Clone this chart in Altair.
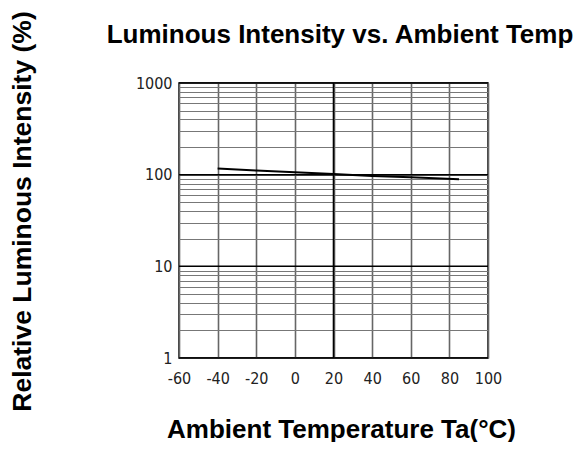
import altair as alt
import pandas as pd

# Data
temps = [-40, -20, 0, 20, 40, 60, 85]
intensity = [117, 111, 106, 102, 97, 94, 89]

x_ticks = [-60, -40, -20, 0, 20, 40, 60, 80, 100]
y_grid = [1, 2, 3, 4, 5, 6, 7, 8, 9,
          10, 20, 30, 40, 50, 60, 70, 80, 90,
          100, 200, 300, 400, 500, 600, 700, 800, 900, 1000]
decades = [1, 10, 100, 1000]
center_temp = [20]
chart_title = ["Luminous Intensity vs. Ambient Temp"]

df = pd.DataFrame({"t": temps, "v": intensity})
dec_df = pd.DataFrame({"v": decades})
ct_df = pd.DataFrame({"t": center_temp})
title_df = pd.DataFrame({"label": chart_title})

xscale = alt.Scale(domain=[-60, 100], nice=False, zero=False)
yscale = alt.Scale(type="log", domain=[1, 1000], nice=False)

label_font = "DejaVu Sans Condensed"
title_font = "Liberation Sans"

x_axis = alt.Axis(values=x_ticks, title="Ambient Temperature Ta(°C)",
                  labelExpr="toString(datum.value)",
                  grid=True, gridColor="#666666", gridWidth=1.6,
                  domain=False, ticks=False, labelPadding=12,
                  labelOverlap=False, labelSeparation=0, labelFlush=False,
                  labelFont=label_font, labelFontSize=16, labelColor="#222222",
                  titleFont=title_font, titleFontSize=26, titleFontWeight="bold",
                  titleColor="black", titleX=162, titleY=79,
                  titleBaseline="alphabetic", titleAnchor="middle")
y_axis = alt.Axis(values=y_grid, title="Relative Luminous Intensity (%)",
                  labelExpr="(datum.value==1||datum.value==10||datum.value==100||datum.value==1000) ? toString(datum.value) : ''",
                  grid=True, gridColor="#777777", gridWidth=1.2,
                  domain=False, ticks=False, labelPadding=7,
                  labelOverlap=False, labelFlush=False,
                  labelFont=label_font, labelFontSize=16, labelColor="#222222",
                  titleFont=title_font, titleFontSize=26.5, titleFontWeight="bold",
                  titleColor="black", titleX=-157, titleY=128, titleAngle=-90,
                  titleBaseline="middle", titleAnchor="middle")

line = alt.Chart(df).mark_line(color="black", strokeWidth=2).encode(
    x=alt.X("t:Q", scale=xscale, axis=x_axis),
    y=alt.Y("v:Q", scale=yscale, axis=y_axis),
)

dec_rules = alt.Chart(dec_df).mark_rule(color="black", strokeWidth=1.5).encode(
    y=alt.Y("v:Q", scale=yscale, axis=y_axis)
)
ct_rule = alt.Chart(ct_df).mark_rule(color="black", strokeWidth=1.6).encode(
    x=alt.X("t:Q", scale=xscale, axis=x_axis)
)

title_text = alt.Chart(title_df).mark_text(
    font=title_font, fontSize=26, fontWeight="bold", color="black",
    align="center", baseline="alphabetic"
).encode(x=alt.value(161), y=alt.value(-40), text="label:N")

chart = alt.layer(line, dec_rules, ct_rule, title_text).properties(
    width=309, height=275,
    autosize=alt.AutoSizeParams(type="none"),
    padding={"left": 171, "top": 75, "right": 85, "bottom": 84},
).configure_view(stroke="black", strokeWidth=1.5)

chart.save("out.html", embed_options={"renderer": "svg", "actions": False})
